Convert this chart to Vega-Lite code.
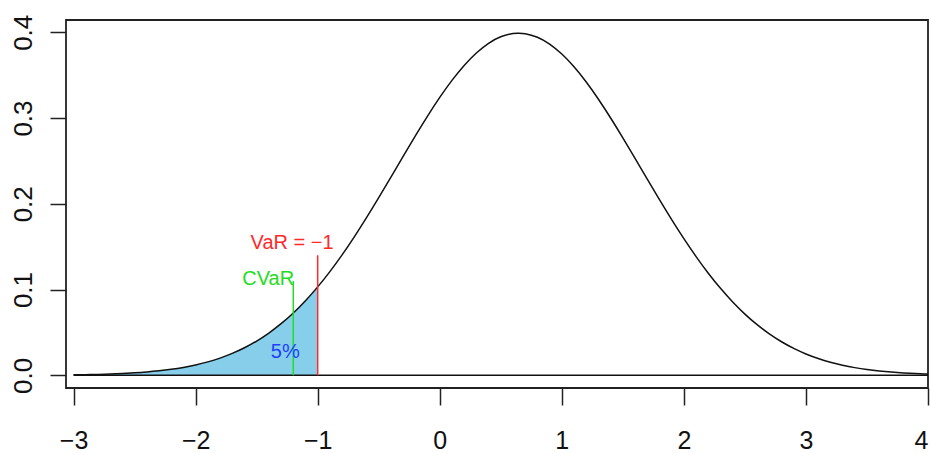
{
  "$schema": "https://vega.github.io/schema/vega-lite/v6.json",
  "width": 862,
  "height": 368,
  "autosize": {"type": "none"},
  "padding": {"left": 66, "top": 20, "right": 3, "bottom": 65},
  "background": "white",
  "config": {
    "view": {"stroke": "#222", "strokeWidth": 1.8},
    "font": "Liberation Sans",
    "axis": {
      "domain": false,
      "grid": false,
      "ticks": true,
      "tickColor": "#222",
      "tickWidth": 1.5,
      "labelColor": "#111",
      "labelFont": "Liberation Sans",
      "labelFontSize": 26,
      "title": null
    }
  },
  "datasets": {
    "curve": [
      {"x": -3.0, "y": 0.000519}, {"x": -2.9, "y": 0.000745}, {"x": -2.8, "y": 0.001056}, {"x": -2.7, "y": 0.001483},
      {"x": -2.6, "y": 0.002062}, {"x": -2.5, "y": 0.002839}, {"x": -2.4, "y": 0.003869}, {"x": -2.3, "y": 0.005219},
      {"x": -2.2, "y": 0.006971}, {"x": -2.1, "y": 0.009219}, {"x": -2.0, "y": 0.012073}, {"x": -1.9, "y": 0.015648},
      {"x": -1.8, "y": 0.020079}, {"x": -1.7, "y": 0.025506}, {"x": -1.6, "y": 0.032098}, {"x": -1.5, "y": 0.039975},
      {"x": -1.4, "y": 0.049295}, {"x": -1.3, "y": 0.060172}, {"x": -1.2, "y": 0.072721}, {"x": -1.1, "y": 0.087027},
      {"x": -1.0, "y": 0.103112}, {"x": -0.9, "y": 0.120936}, {"x": -0.8, "y": 0.140445}, {"x": -0.7, "y": 0.161467},
      {"x": -0.6, "y": 0.183794}, {"x": -0.5, "y": 0.20712}, {"x": -0.4, "y": 0.231092}, {"x": -0.3, "y": 0.255275},
      {"x": -0.2, "y": 0.279169}, {"x": -0.1, "y": 0.302254}, {"x": 0.0, "y": 0.324024}, {"x": 0.1, "y": 0.343888},
      {"x": 0.2, "y": 0.361339}, {"x": 0.3, "y": 0.375897}, {"x": 0.4, "y": 0.387152}, {"x": 0.5, "y": 0.394775},
      {"x": 0.6, "y": 0.398539}, {"x": 0.645, "y": 0.398942}, {"x": 0.7, "y": 0.398339}, {"x": 0.8, "y": 0.394184}, {"x": 0.9, "y": 0.386185},
      {"x": 1.0, "y": 0.374584}, {"x": 1.1, "y": 0.359715}, {"x": 1.2, "y": 0.342003}, {"x": 1.3, "y": 0.321912},
      {"x": 1.4, "y": 0.300011}, {"x": 1.5, "y": 0.276808}, {"x": 1.6, "y": 0.252855}, {"x": 1.7, "y": 0.228677},
      {"x": 1.8, "y": 0.204755}, {"x": 1.9, "y": 0.181516}, {"x": 2.0, "y": 0.159304}, {"x": 2.1, "y": 0.138424},
      {"x": 2.2, "y": 0.119084}, {"x": 2.3, "y": 0.101424}, {"x": 2.4, "y": 0.085525}, {"x": 2.5, "y": 0.071389},
      {"x": 2.6, "y": 0.059018}, {"x": 2.7, "y": 0.048295}, {"x": 2.8, "y": 0.039128}, {"x": 2.9, "y": 0.031384},
      {"x": 3.0, "y": 0.024923}, {"x": 3.1, "y": 0.019593}, {"x": 3.2, "y": 0.015258}, {"x": 3.3, "y": 0.011754},
      {"x": 3.4, "y": 0.00897}, {"x": 3.5, "y": 0.006775}, {"x": 3.6, "y": 0.005069}, {"x": 3.7, "y": 0.003753},
      {"x": 3.8, "y": 0.002752}, {"x": 3.9, "y": 0.001997}, {"x": 4.0, "y": 0.001434}
    ],
    "zero": [{"x": -3, "x2": 4, "y": 0}],
    "vlines": [
      {"name": "VaR", "x": -1.0, "y": 0, "y2": 0.14},
      {"name": "CVaR", "x": -1.2, "y": 0, "y2": 0.11}
    ],
    "labels": [
      {"label": "VaR = −1", "x": -1.21, "y": 0.1537},
      {"label": "CVaR", "x": -1.405, "y": 0.1128},
      {"label": "5%", "x": -1.266, "y": 0.0272}
    ]
  },
  "layer": [
    {
      "data": {"name": "curve"},
      "transform": [{"filter": "datum.x <= -1"}],
      "mark": {"type": "area", "color": "#87CEEB", "interpolate": "natural", "opacity": 1},
      "encoding": {
        "x": {"field": "x", "type": "quantitative", "scale": {"domain": [-3.062, 4.0], "nice": false, "zero": false},
          "axis": {"values": [-3, -2, -1, 0, 1, 2, 3, 4], "tickSize": 17, "labelPadding": 35, "labelFontSize": 25, "labelBaseline": "middle", "format": "d", "labelExpr": "replace(datum.label, '-', '−')"}},
        "y": {"field": "y", "type": "quantitative", "scale": {"domain": [-0.0148, 0.4143], "nice": false, "zero": false},
          "axis": {"values": [0, 0.1, 0.2, 0.3, 0.4], "format": ".1f", "tickSize": 16, "labelAngle": -90, "labelAlign": "center", "labelBaseline": "middle", "labelPadding": 27}},
        "y2": {"datum": 0}
      }
    },
    {
      "data": {"name": "zero"},
      "mark": {"type": "rule", "color": "#111", "strokeWidth": 1.5},
      "encoding": {
        "x": {"field": "x", "type": "quantitative"},
        "x2": {"field": "x2"},
        "y": {"field": "y", "type": "quantitative"}
      }
    },
    {
      "data": {"name": "curve"},
      "mark": {"type": "line", "color": "#111", "strokeWidth": 1.5, "interpolate": "natural"},
      "encoding": {
        "x": {"field": "x", "type": "quantitative"},
        "y": {"field": "y", "type": "quantitative"}
      }
    },
    {
      "data": {"name": "vlines"},
      "mark": {"type": "rule", "strokeWidth": 1.5},
      "encoding": {
        "x": {"field": "x", "type": "quantitative"},
        "y": {"field": "y", "type": "quantitative"},
        "y2": {"field": "y2"},
        "color": {"field": "name", "type": "nominal", "scale": {"domain": ["VaR", "CVaR"], "range": ["#ff2a2a", "#22dd22"]}, "legend": null}
      }
    },
    {
      "data": {"name": "labels"},
      "mark": {"type": "text", "font": "Liberation Sans", "fontSize": 20, "align": "center", "baseline": "middle"},
      "encoding": {
        "x": {"field": "x", "type": "quantitative"},
        "y": {"field": "y", "type": "quantitative"},
        "text": {"field": "label"},
        "color": {"field": "label", "type": "nominal", "scale": {"domain": ["VaR = −1", "CVaR", "5%"], "range": ["#ff2a2a", "#22dd22", "#2040ff"]}, "legend": null}
      }
    }
  ],
  "resolve": {"scale": {"color": "independent"}}
}
